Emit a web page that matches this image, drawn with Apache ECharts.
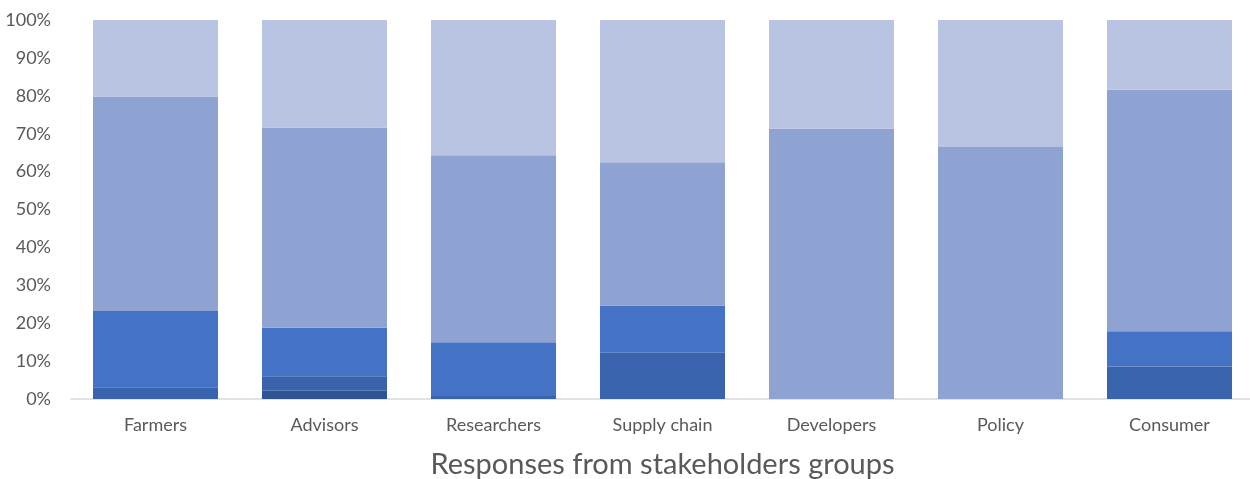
<!DOCTYPE html>
<html><head><meta charset="utf-8">
<script src="https://cdn.jsdelivr.net/npm/echarts@6/dist/echarts.min.js"></script>
<style>html,body{margin:0;padding:0;background:#fff}#c{width:1250px;height:479px}</style>
</head><body><div id="c"></div>
<script>
const categories = ['Farmers','Advisors','Researchers','Supply chain','Developers','Policy','Consumer'];
const yTicks = [0,10,20,30,40,50,60,70,80,90,100];
const s1 = [0, 2.2, 0, 0, 0, 0, 0];
const s2 = [3.1, 3.8, 0.8, 12.2, 0, 0, 8.6];
const s3 = [20.1, 12.8, 14.2, 12.5, 0, 0, 9.3];
const s4 = [56.6, 52.8, 49.3, 37.8, 71.3, 66.5, 63.7];
const s5 = [20.2, 28.4, 35.7, 37.5, 28.7, 33.5, 18.4];
const colors = ['#2f5496','#3a63ad','#4472c4','#8fa3d3','#b9c3e2'];
const seriesData = [s1,s2,s3,s4,s5];
const chart = echarts.init(document.getElementById('c'));
chart.setOption({
  animation:false,
  textStyle:{fontFamily:'Lato'},
  grid:{left:71, top:20, width:1183, bottom:80, outerBoundsMode:'none', containLabel:false},
  xAxis:{type:'category', data:categories,
    axisLine:{lineStyle:{color:'#d9d9d9', width:1.5}}, axisTick:{show:false},
    axisLabel:{color:'#595959', fontSize:18, margin:17, fontFamily:'Lato'},
    name:'Responses from stakeholders groups', nameLocation:'middle', nameGap:51,
    nameTextStyle:{color:'#595959', fontSize:29, fontFamily:'Lato'}},
  yAxis:{type:'value', min:yTicks[0], max:yTicks[yTicks.length-1], interval:10,
    splitLine:{show:false}, axisLine:{show:false}, axisTick:{show:false},
    axisLabel:{formatter:'{value}%', color:'#595959', fontSize:18, margin:20, fontFamily:'Lato'}},
  series: seriesData.map((d,i)=>({type:'bar', stack:'t', data:d, barWidth:125,
    itemStyle:{color:colors[i]}}))
});
</script></body></html>
